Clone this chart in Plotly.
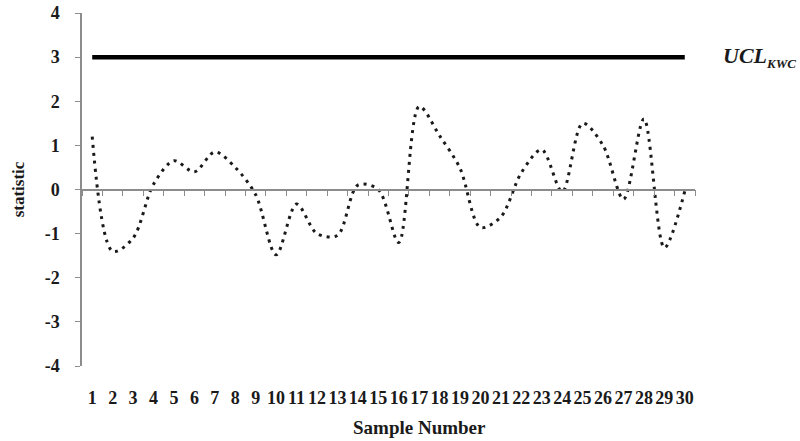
import plotly.graph_objects as go

samples = list(range(1, 31))
tick_labels = [str(i) for i in samples]
statistic = [1.2, -1.4, -1.1, 0.12, 0.65, 0.4, 0.85, 0.5, -0.12, -1.48,
             -0.33, -1.0, -1.04, 0.1, 0.0, -1.2, 1.88, 1.22, 0.48, -0.86,
             -0.62, 0.38, 0.9, -0.05, 1.5, 1.0, -0.22, 1.6, -1.32, -0.04]
ucl = [3.0] * len(samples)
y_ticks = [-4, -3, -2, -1, 0, 1, 2, 3, 4]
y_tick_labels = ["-4", "-3", "-2", "-1", "0", "1", "2", "3", "4"]
boundaries = [i + 0.5 for i in range(0, 31)]

FONT = "Liberation Serif"
INK = "#1a1a1a"

fig = go.Figure()
fig.add_trace(go.Scatter(x=samples, y=ucl, mode="lines",
                         line=dict(color="black", width=4.5), showlegend=False))
fig.add_trace(go.Scatter(x=samples, y=statistic, mode="lines",
                         line=dict(color=INK, width=3, dash="3px,5px", shape="spline", smoothing=0.9),
                         showlegend=False))
# invisible trace to activate the zero-crossing axis
fig.add_trace(go.Scatter(x=samples, y=[0] * len(samples), xaxis="x2", mode="lines",
                         line=dict(width=0), hoverinfo="skip", showlegend=False))

fig.update_layout(
    width=800, height=441,
    margin=dict(l=82, r=105, t=13, b=75),
    paper_bgcolor="white", plot_bgcolor="white",
    font=dict(family=FONT, color=INK, weight="bold"),
    xaxis=dict(range=[0.5, 30.5], tickmode="array", tickvals=samples, ticktext=tick_labels,
               showline=False, showgrid=False, zeroline=False, ticks="", automargin=False,
               tickfont=dict(family=FONT, size=18, color=INK, weight="bold"), ticklabelstandoff=19),
    xaxis2=dict(range=[0.5, 30.5], overlaying="x", anchor="free", position=0.5, side="bottom",
                tickmode="array", tickvals=boundaries, showticklabels=False, automargin=False,
                showline=True, linecolor="#8c8c8c", linewidth=1.5,
                ticks="outside", ticklen=6, tickcolor="#8c8c8c", tickwidth=1.2,
                showgrid=False, zeroline=False),
    yaxis=dict(range=[-4, 4], tickmode="array", tickvals=y_ticks, ticktext=y_tick_labels,
               showline=True, linecolor="#8c8c8c", linewidth=1.5, automargin=False,
               ticks="outside", ticklen=5, tickcolor="#8c8c8c", ticklabeloverflow="allow",
               showgrid=False, zeroline=False,
               tickfont=dict(family=FONT, size=18, color=INK, weight="bold"), ticklabelstandoff=12,
               title=dict(text="statistic", font=dict(family=FONT, size=17, color=INK, weight="bold"),
                          standoff=16)),
)

fig.add_annotation(text="Sample Number", xref="paper", yref="paper",
                   x=0.55, y=-0.175, xanchor="center", yanchor="middle", showarrow=False,
                   font=dict(family=FONT, size=19, color=INK, weight="bold"))
fig.add_annotation(text="<i>UCL<sub><span style='font-size:13px'>KWC</span></sub></i>",
                   xref="paper", yref="y",
                   x=1.043, y=3.0, xanchor="left", yanchor="middle", showarrow=False,
                   font=dict(family=FONT, size=22, color=INK, weight="bold"))

fig.write_html("out.html", config={"displayModeBar": False},
               post_script="document.body.style.margin='0px';")
